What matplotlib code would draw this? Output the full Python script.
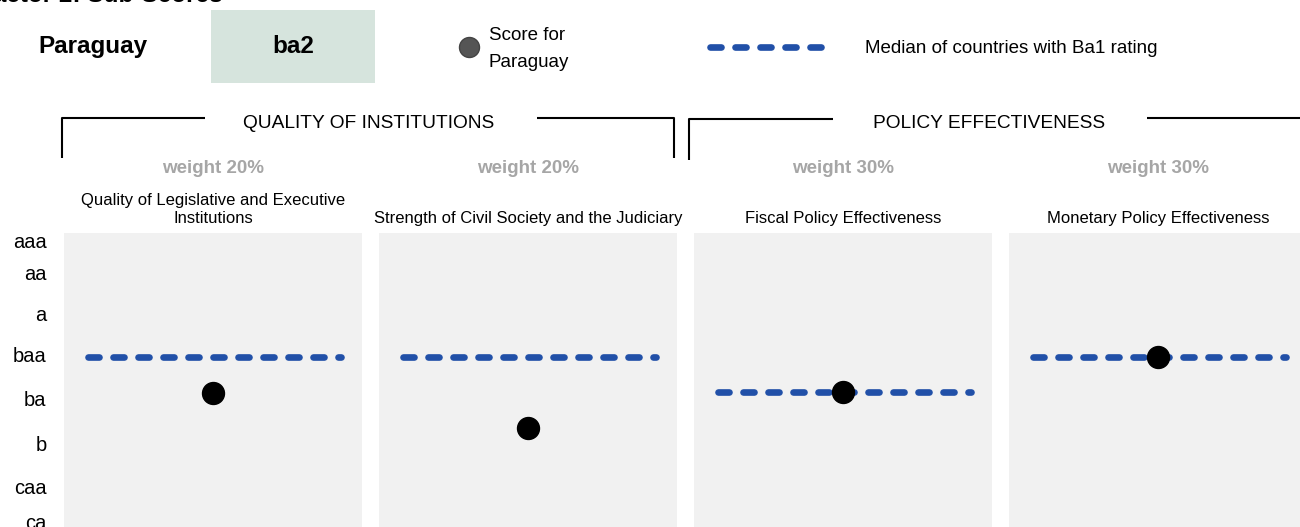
import matplotlib
matplotlib.use("Agg")
import matplotlib.pyplot as plt

plt.rcParams["font.family"] = ["Liberation Sans", "DejaVu Sans"]

# ---- data -------------------------------------------------------------
country = "Paraguay"
country_rating = "ba2"
peer_group = "Ba1"

groups = ["QUALITY OF INSTITUTIONS", "POLICY EFFECTIVENESS"]
subfactors = [
    "Quality of Legislative and Executive\nInstitutions",
    "Strength of Civil Society and the Judiciary",
    "Fiscal Policy Effectiveness",
    "Monetary Policy Effectiveness",
]
weights = ["weight 20%", "weight 20%", "weight 30%", "weight 30%"]

# numeric score scale (lower = stronger)
rating_labels = ["aaa", "aa", "a", "baa", "ba", "b", "caa", "ca"]
rating_ticks = [1.2, 3.4, 6.2, 9.0, 12.0, 15.1, 18.0, 20.4]

country_scores = [11.5, 13.9, 11.4, 9.0]
peer_medians = [9.0, 9.0, 11.4, 9.0]

# ---- layout (pixels) ----------------------------------------------------
W, H = 1300, 527
fig = plt.figure(figsize=(W / 100, H / 100), dpi=100)


def fx(x):
    return x / W


def fy(y):
    return 1 - y / H


BLUE = "#2150a8"
PANEL = "#f1f1f1"
LW = 4.8
DASH = (1.65, 2.1)

panel_left = [64, 379, 694, 1009]
panel_w = 298
panel_top, panel_bottom = 233, 545

for i, left in enumerate(panel_left):
    ax = fig.add_axes([fx(left), fy(panel_bottom), panel_w / W,
                       (panel_bottom - panel_top) / H])
    ax.set_facecolor(PANEL)
    for s in ax.spines.values():
        s.set_visible(False)
    ax.set_xlim(0, 1)
    ax.set_ylim(21.9, 0.53)
    ax.set_xticks([])
    if i == 0:
        ax.set_yticks(rating_ticks)
        ax.set_yticklabels(rating_labels, fontsize=14.5, va="center")
        ax.tick_params(axis="y", length=0, pad=12.5)
    else:
        ax.set_yticks([])
    ax.plot([0.08, 0.93], [peer_medians[i]] * 2, color=BLUE, lw=LW,
            dashes=DASH, dash_capstyle="round", zorder=2)
    ax.plot([0.5], [country_scores[i]], "o", color="black", ms=15.8,
            zorder=3)

# header, legend and group brackets in a full-figure pixel overlay
ov = fig.add_axes([0, 0, 1, 1], facecolor="none")
ov.set_xlim(0, W)
ov.set_ylim(H, 0)
ov.axis("off")

ov.text(223, 2.5, "Factor 2: Sub-Scores", fontsize=17.5, fontweight="bold",
        ha="right", va="baseline")

ov.text(92.5, 53.3, country, fontsize=17.5, fontweight="bold",
        ha="center", va="baseline")
ov.add_patch(plt.Rectangle((211, 10), 164, 73, facecolor="#d6e4dd",
                           edgecolor="none"))
ov.text(293, 53.3, country_rating, fontsize=17.5, fontweight="bold",
        ha="center", va="baseline")

ov.plot([469.3], [47.3], "o", color="#555555", mec="#444444", ms=14.4)
ov.text(488.7, 40, "Score for", fontsize=13.5, ha="left", va="baseline")
ov.text(488.7, 67, country, fontsize=13.5, ha="left", va="baseline")
ov.plot([710, 821], [47.3, 47.3], color=BLUE, lw=LW, dashes=DASH,
        dash_capstyle="round")
ov.text(865, 53.3, f"Median of countries with {peer_group} rating",
        fontsize=13.5, ha="left", va="baseline")

blk = dict(color="black", lw=1.5, solid_capstyle="butt")
ov.plot([61.7, 61.7, 205], [158.3, 118.3, 118.3], **blk)
ov.plot([536.7, 674.3, 674.3], [118.3, 118.3, 158.3], **blk)
ov.plot([689.3, 689.3, 832.7], [160, 119.3, 119.3], **blk)
ov.plot([1147, 1300], [118.3, 118.3], **blk)
ov.text(369, 128, groups[0], fontsize=13.8, ha="center", va="baseline")
ov.text(989, 128, groups[1], fontsize=13.8, ha="center", va="baseline")

for i, left in enumerate(panel_left):
    cx = left + panel_w / 2
    ov.text(cx, 172.7, weights[i], fontsize=13.5, fontweight="bold",
            color="#a6a6a6", ha="center", va="baseline")
    ov.text(cx, 223, subfactors[i], fontsize=12, ha="center",
            va="baseline", multialignment="center", linespacing=1.25)

fig.savefig("out.png", dpi=100)
